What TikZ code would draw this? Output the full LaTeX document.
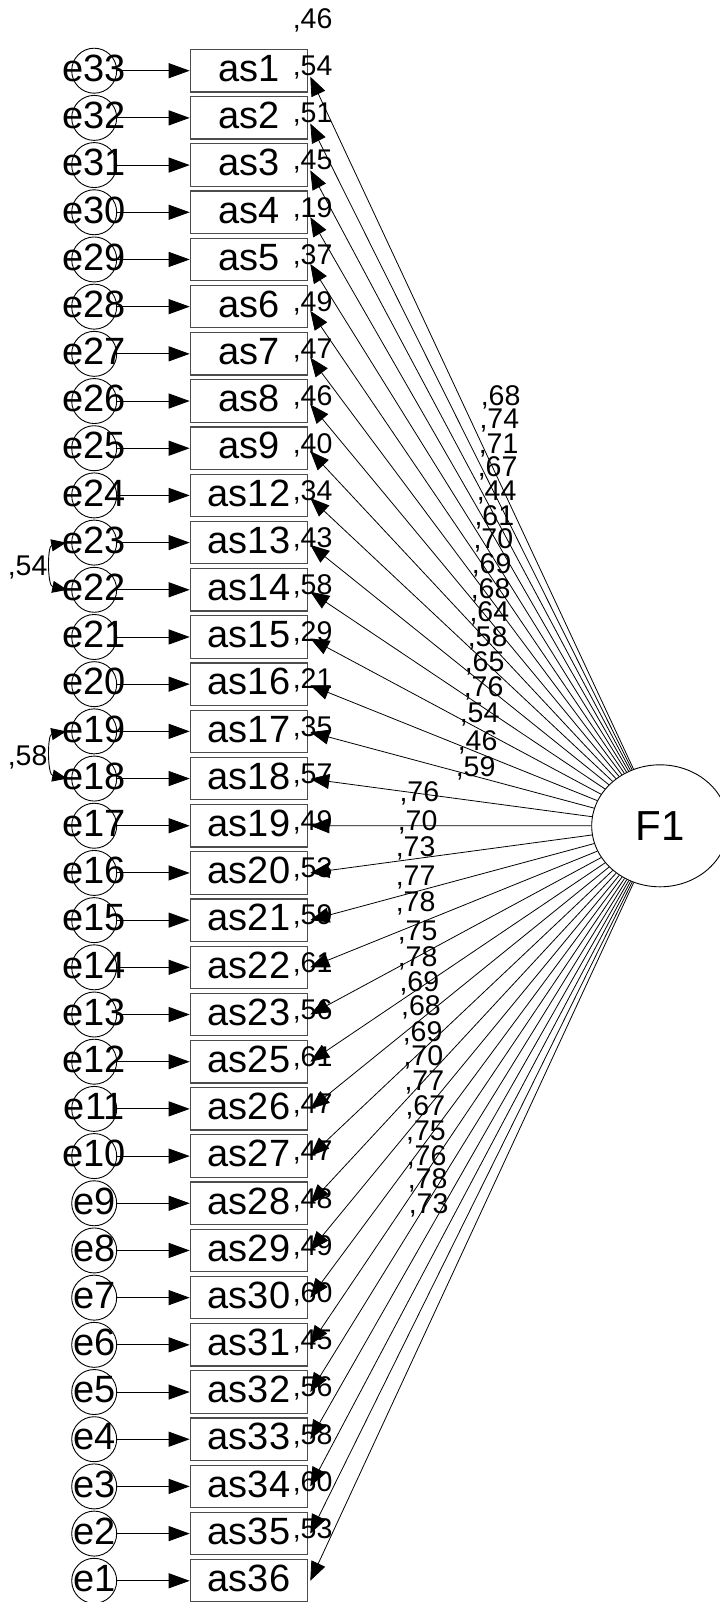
\documentclass[tikz,border=0pt]{standalone}
\usepackage{fontspec}
\setmainfont{Liberation Sans}
\usetikzlibrary{arrows.meta,calc,shapes.geometric}
\begin{document}
\begin{tikzpicture}[x=1bp,y=-1bp,
  bigfont/.style={font=\fontsize{38bp}{40bp}\selectfont},
  smallfont/.style={font=\fontsize{28.5bp}{30bp}\selectfont},
  obsbox/.style={draw=black!70,line width=1.2bp,minimum width=117.4bp,minimum height=42.4bp,inner sep=0pt,bigfont,text height=27.5bp,text depth=6bp},
  ecirc/.style={draw,circle,line width=0.9bp,minimum size=45bp,inner sep=0pt},
  elbl/.style={bigfont,inner sep=0pt,text height=27.5bp,text depth=6bp},
  latent/.style={draw,ellipse,line width=0.9bp,minimum width=136.6bp,minimum height=122bp,inner sep=0pt,font=\fontsize{42bp}{44bp}\selectfont},
  coef/.style={smallfont,inner sep=0pt,anchor=base west},
  earrow/.style={line width=0.9bp,-{Triangle[length=21bp,width=15bp]}},
  larrow/.style={line width=0.8bp,-{Triangle[length=19bp,width=15bp]}},
  covarrow/.style={line width=0.9bp,{Triangle[length=15bp,width=12bp]}-{Triangle[length=15bp,width=12bp]}}
]
\fill[white] (0,0) rectangle (720,1602);
\useasboundingbox (0,0) rectangle (720,1602);
\node[latent] (F1) at (660,825.8) {F1};
\foreach \k/\nm/\e/\r/\w/\lx/\ly in {
1/as1/e33/46/68/483/405,
2/as2/e32/54/74/481.7/428.3,
3/as3/e31/51/71/481/453.3,
4/as4/e30/45/67/480/476.7,
5/as5/e29/19/44/479/500,
6/as6/e28/37/61/476.7/525,
7/as7/e27/49/70/475.7/548.3,
8/as8/e26/47/69/474/573.3,
9/as9/e25/46/68/473/598.3,
10/as12/e24/40/64/471.7/621.7,
11/as13/e23/34/58/470/646.7,
12/as14/e22/43/65/467/671.7,
13/as15/e21/58/76/466/696.7,
14/as16/e20/29/54/462/722,
15/as17/e19/21/46/460/750,
16/as18/e18/35/59/458/776.7,
17/as19/e17/57/76/401.7/801.7,
18/as20/e16/49/70/400/830,
19/as21/e15/53/73/398/856.7,
20/as22/e14/59/77/398/885,
21/as23/e13/61/78/398/911.7,
22/as25/e12/56/75/400/940,
23/as26/e11/61/78/400/966.7,
24/as27/e10/47/69/401.7/991.7,
25/as28/e9/47/68/403.3/1015,
26/as29/e8/48/69/405/1041.7,
27/as30/e7/49/70/405.7/1065,
28/as31/e6/60/77/406.7/1090,
29/as32/e5/45/67/407.7/1115,
30/as33/e4/56/75/408.3/1140,
31/as34/e3/58/76/409/1165,
32/as35/e2/60/78/410/1188.3,
33/as36/e1/53/73/411/1213}{
  \pgfmathsetmacro\yy{70.7+47.19*(\k-1)}
  \pgfmathsetmacro\dd{max(0,6*(17-\k)/16)}
  \node[obsbox] (\nm) at (249,\yy) {\nm};
  \node[ecirc,label={[elbl]center:\e}] (\e) at (94.2,\yy) {};
  \draw[earrow] (\e) -- (\nm);
  \draw[larrow] (F1) -- ($(\nm.east)+(2,\dd)$);
  \node[coef] (r\k) at (292.6,\yy-42.4) {,\r};
  \node[coef] (w\k) at (\lx-2.4,\ly) {,\w};
}
\draw[covarrow] ([xshift=-5bp]e23.west) .. controls +(-19,3.5) and +(-20,-4) .. ([xshift=-4bp]e22.west);
\draw[covarrow] ([xshift=-5bp]e19.west) .. controls +(-19,3.5) and +(-20,-4) .. ([xshift=-4bp]e18.west);
\node[coef] (c1) at (7.6,575) {,54};
\node[coef] (c2) at (7.6,765) {,58};
\end{tikzpicture}
\end{document}
